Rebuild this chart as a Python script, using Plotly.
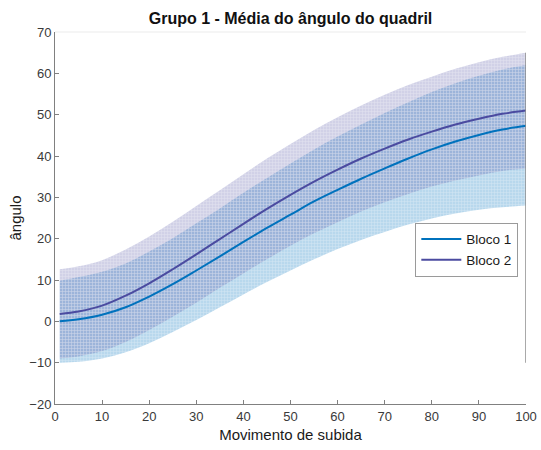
import plotly.graph_objects as go

# Percent of the rising movement
movimento = [1, 5, 10, 15, 20, 25, 30, 35, 40, 45, 50, 55, 60, 65, 70, 75, 80, 85, 90, 95, 100]

# Bloco 1: mean hip angle and its band
bloco1_media = [0.0, 0.5, 1.6, 3.4, 6.0, 9.0, 12.3, 15.7, 19.2, 22.6, 25.8, 29.0, 31.8, 34.5, 37.0,
                39.4, 41.6, 43.5, 45.1, 46.4, 47.3]
bloco1_sup = [9.8, 10.7, 12.0, 14.0, 16.9, 20.1, 23.7, 27.3, 31.1, 34.7, 38.2, 41.6, 44.7, 47.6, 50.4,
              53.0, 55.5, 57.6, 59.4, 60.9, 62.0]
bloco1_inf = [-10.0, -9.8, -9.0, -7.5, -5.3, -2.6, 0.3, 3.4, 6.5, 9.5, 12.3, 15.0, 17.5, 19.7, 21.6,
              23.4, 24.9, 26.1, 27.0, 27.6, 28.0]

# Bloco 2: mean hip angle and its band
bloco2_media = [1.8, 2.4, 3.8, 6.2, 9.2, 12.6, 16.2, 19.9, 23.6, 27.2, 30.6, 33.8, 36.7, 39.4, 41.8,
                44.0, 45.9, 47.6, 49.0, 50.2, 51.0]
bloco2_sup = [12.6, 13.3, 14.8, 17.4, 20.5, 24.1, 27.9, 31.7, 35.6, 39.4, 42.9, 46.3, 49.4, 52.2, 54.8,
              57.2, 59.2, 61.1, 62.7, 64.0, 65.0]
bloco2_inf = [-9.0, -8.5, -7.2, -5.0, -2.1, 1.1, 4.5, 8.1, 11.6, 15.0, 18.3, 21.3, 24.0, 26.6, 28.8,
              30.8, 32.6, 34.1, 35.3, 36.4, 37.0]

x_ticks = [0, 10, 20, 30, 40, 50, 60, 70, 80, 90, 100]
y_ticks = [-20, -10, 0, 10, 20, 30, 40, 50, 60, 70]

COR1 = "#0072BD"
COR2 = "#4B4BA0"
BANDA1 = "rgba(0,114,189,0.28)"
BANDA2 = "rgba(75,75,160,0.26)"

FONTE = "Liberation Sans, Arial, Helvetica"

fig = go.Figure()


def banda(x, inf, sup, cor):
    fig.add_trace(go.Scatter(x=x, y=inf, mode="lines", line=dict(width=0, shape="spline"),
                             showlegend=False, hoverinfo="skip"))
    fig.add_trace(go.Scatter(x=x, y=sup, mode="lines", line=dict(width=0, shape="spline"),
                             fill="tonexty", fillcolor=cor,
                             fillpattern=dict(shape="+", fgcolor="rgba(255,255,255,0.7)",
                                              bgcolor=cor, size=3, solidity=0.35),
                             showlegend=False, hoverinfo="skip"))


banda(movimento, bloco1_inf, bloco1_sup, BANDA1)
banda(movimento, bloco2_inf, bloco2_sup, BANDA2)

fig.add_trace(go.Scatter(x=movimento, y=bloco1_media, mode="lines", name="Bloco 1",
                         line=dict(color=COR1, width=2, shape="spline")))
fig.add_trace(go.Scatter(x=movimento, y=bloco2_media, mode="lines", name="Bloco 2",
                         line=dict(color=COR2, width=2, shape="spline")))

# closing edge of the band patches at the end of the movement
fig.add_shape(type="line", x0=100, x1=100, y0=-10, y1=65, xref="x", yref="y",
              line=dict(color="#8c8c8c", width=1.5))
# faint top border of the axes box
fig.add_shape(type="line", x0=0, x1=1, y0=1, y1=1, xref="paper", yref="paper",
              line=dict(color="#ebebeb", width=1))

eixo = dict(showgrid=False, zeroline=False, showline=True, linecolor="#808080", linewidth=1,
            ticks="inside", ticklen=4, tickcolor="#808080", mirror=False, automargin=False,
            tickfont=dict(family=FONTE, size=13, color="#3a3a3a"),
            title_font=dict(family=FONTE, size=15, color="#1a1a1a"))

fig.update_xaxes(range=[0, 100], tickvals=x_ticks, title_text="Movimento de subida",
                 title_standoff=6, **eixo)
fig.update_yaxes(range=[-20, 70], tickvals=y_ticks, title_text="ângulo",
                 title_standoff=4, **eixo)

fig.update_layout(
    width=541, height=450,
    margin=dict(l=55, r=15, t=32, b=46),
    paper_bgcolor="white", plot_bgcolor="white",
    title=dict(text="<b>Grupo 1 - Média do ângulo do quadril</b>", x=0.537, xanchor="center",
               y=0.96, yanchor="middle",
               font=dict(family=FONTE, size=16, color="#111111")),
    legend=dict(x=0.765, y=0.487, xanchor="left", yanchor="top", bgcolor="white",
                bordercolor="#9a9a9a", borderwidth=1, tracegroupgap=0, itemwidth=40,
                traceorder="normal",
                font=dict(family=FONTE, size=13.5, color="#1a1a1a")),
)

fig.write_html("out.html")
